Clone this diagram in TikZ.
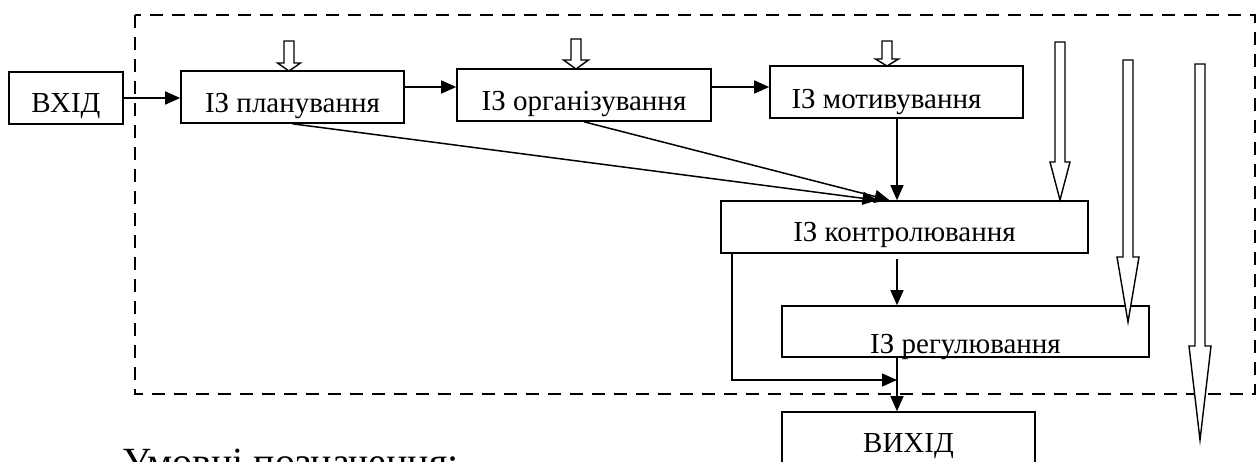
\documentclass[tikz,border=0pt]{standalone}
\usepackage{fontspec}
\setmainfont{Liberation Serif}
\usetikzlibrary{arrows.meta,calc}
\newcommand\hollowarrow[5]{%
  \draw[hollow] (#1-5,#2) -- (#1+5,#2) -- (#1+5,#3) -- (#1+#5,#3) -- (#1,#4) -- (#1-#5,#3) -- (#1-5,#3) -- cycle;}
\begin{document}
\begin{tikzpicture}[x=1pt,y=-1pt,
  box/.style={draw,line width=1.6pt,inner sep=0pt,font=\fontsize{29}{34}\selectfont,text depth=0pt},
  conn/.style={line width=1.5pt,-{Triangle[length=15pt,width=13pt]}},
  hollow/.style={draw,line width=1.4pt,fill=white,line join=miter}]
\useasboundingbox (0,0) rectangle (1256,461);
\clip (0,0) rectangle (1256,461);
% dashed frame
\draw[line width=1.8pt,dash pattern=on 13pt off 9pt] (135,15) rectangle (1255,394);
% boxes
\node[box,minimum width=114pt,minimum height=52pt,text height=28pt] (in) at (66,98) {ВХІД};
\node[box,minimum width=223pt,minimum height=52pt,text height=30pt] (plan) at (292.5,97) {ІЗ планування};
\node[box,minimum width=254pt,minimum height=52pt,text height=30pt] (org) at (584,95) {ІЗ організування};
\node[box,minimum width=253pt,minimum height=52pt,text height=32pt] (mot) at (896.5,92) {\hspace*{-20pt}ІЗ мотивування};
\node[box,minimum width=367pt,minimum height=52pt,text height=28pt] (con) at (904.5,227) {ІЗ контролювання};
\node[box,minimum width=367pt,minimum height=51pt,text height=43pt] (reg) at (965.5,331.5) {ІЗ регулювання};
\node[box,minimum width=253pt,minimum height=52pt,text height=28pt] (out) at (908.5,438) {ВИХІД};
\node[anchor=base west,inner sep=0pt,font=\fontsize{40}{46}\selectfont] (leg) at (122,475) {Умовні позначення:};
% helper coordinates
\coordinate (r1) at (0,87);
\coordinate (cx) at (897,0);
\coordinate (lp) at (732,380);
% connectors
\draw[conn] (in.east) -- (in.east -| plan.west);
\draw[conn] (plan.east |- r1) -- (org.west |- r1);
\draw[conn] (org.east |- r1) -- (mot.west |- r1);
\draw[conn] (plan.south) -- ($(con.north)+(-27,0)$);
\draw[conn] (org.south) -- ($(con.north)+(-15,0)$);
\draw[conn] (cx |- mot.south) -- (cx |- con.north);
\draw[conn] ($(cx |- con.south)+(0,5)$) -- (cx |- reg.north);
\draw[conn] (cx |- reg.south) -- (cx |- out.north);
\draw[conn] (lp |- con.south) |- (cx |- lp);
% hollow arrows
\hollowarrow{289}{41}{63}{71}{11.5}
\hollowarrow{576}{39}{60}{69}{12.5}
\hollowarrow{887}{41}{59}{66}{11.5}
\hollowarrow{1060}{42}{162}{200}{10}
\hollowarrow{1128}{60}{257}{322}{11}
\hollowarrow{1200}{64}{346}{440}{11}
\end{tikzpicture}
\end{document}
